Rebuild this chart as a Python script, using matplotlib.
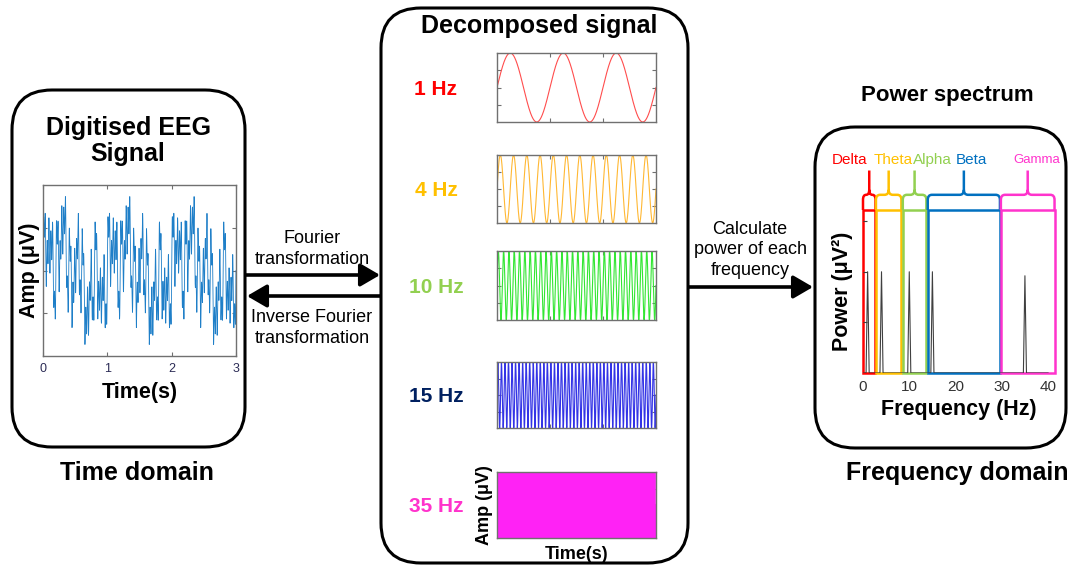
import numpy as np
import matplotlib.pyplot as plt
from matplotlib.patches import FancyBboxPatch, Rectangle, PathPatch
from matplotlib.path import Path

plt.rcParams['font.family'] = ['Liberation Sans', 'DejaVu Sans']

# signal components (Hz) and their amplitudes
freqs = [1, 4, 10, 15, 35]
amps = [1.0, 1.0, 1.0, 1.0, 0.98]
freq_labels = ['1 Hz', '4 Hz', '10 Hz', '15 Hz', '35 Hz']
duration = 3
fs = 1000
time_ticks = [0, 1, 2, 3]

# power spectrum bands
band_names = ['Delta', 'Theta', 'Alpha', 'Beta', 'Gamma']
band_lo = [0, 2.8, 8.6, 14.0, 29.8]
band_hi = [2.7, 8.3, 13.7, 29.6, 41.4]
band_label_x = [-3.0, 6.5, 14.9, 23.5, 37.6]
freq_ticks = [0, 10, 20, 30, 40]
peak_power = 2.0

label_colors = ['#FF0000', '#FFC000', '#92D050', '#002060', '#FF33CC']
wave_colors = ['#FF4D4D', '#FFB833', '#33E633', '#3333E6', '#FF22F5']
band_colors = ['#FF0000', '#FFC000', '#92D050', '#0070C0', '#FF33CC']
frame_grey = '#707070'

W, H = 1070, 567
fig = plt.figure(figsize=(W / 100, H / 100), dpi=100)

overlay = fig.add_axes([0, 0, 1, 1])
overlay.set_xlim(0, W)
overlay.set_ylim(H, 0)
overlay.axis('off')


def px_axes(x0, y0, x1, y1):
    return fig.add_axes([x0 / W, 1 - y1 / H, (x1 - x0) / W, (y1 - y0) / H])


def rbox(x0, y0, x1, y1):
    overlay.add_patch(FancyBboxPatch((x0, y0), x1 - x0, y1 - y0,
                                     boxstyle='round,pad=0,rounding_size=40',
                                     fc='none', ec='black', lw=2.2))


def matlab_frame(ax):
    for s in ax.spines.values():
        s.set_color(frame_grey)
        s.set_linewidth(1.0)
    ax.tick_params(direction='in', top=True, right=True, length=3,
                   color=frame_grey, labelleft=False)


# boxes
rbox(12, 90, 245, 447)
rbox(381, 8, 688, 563)
rbox(815, 127, 1066, 448)

# arrows
arrow_kw = dict(arrowstyle='-|>,head_length=0.6,head_width=0.35', color='black',
                lw=2.6, mutation_scale=20, shrinkA=0, shrinkB=0)
overlay.annotate('', xy=(380, 275), xytext=(246, 275), arrowprops=arrow_kw)
overlay.annotate('', xy=(247, 296), xytext=(380, 296), arrowprops=arrow_kw)
overlay.annotate('', xy=(813, 287), xytext=(689, 287), arrowprops=arrow_kw)

overlay.text(312, 249, 'Fourier\ntransformation', ha='center', va='center',
             fontsize=13, linespacing=1.25)
overlay.text(312, 328, 'Inverse Fourier\ntransformation', ha='center', va='center',
             fontsize=13, linespacing=1.25)
overlay.text(750, 250, 'Calculate\npower of each\nfrequency', ha='center', va='center',
             fontsize=13, linespacing=1.25)

# titles
overlay.text(128, 141, 'Digitised EEG\nSignal', ha='center', va='center',
             fontsize=18, fontweight='bold', linespacing=1.15)
overlay.text(137, 473, 'Time domain', ha='center', va='center',
             fontsize=18, fontweight='bold')
overlay.text(539, 26, 'Decomposed signal', ha='center', va='center',
             fontsize=18, fontweight='bold')
overlay.text(947, 95, 'Power spectrum', ha='center', va='center',
             fontsize=16, fontweight='bold')
overlay.text(957, 473, 'Frequency domain', ha='center', va='center',
             fontsize=18, fontweight='bold')

t = np.linspace(0, duration, duration * fs + 1)
waves = [a * np.sin(2 * np.pi * f * t) for f, a in zip(freqs, amps)]
eeg = np.sum(waves, axis=0)

# EEG signal
ax = px_axes(43, 185, 236, 356)
ax.plot(t, eeg, color='#1F7FC8', lw=0.6)
ax.set_xlim(0, duration)
lim = 2 * np.abs(eeg).max() / 1.73
ax.set_ylim(-lim, lim)
ax.set_yticks([-lim / 2, 0, lim / 2])
ax.set_xticks(time_ticks)
matlab_frame(ax)
ax.tick_params(labelsize=9, labelcolor='#2B2B55', pad=5)
ax.set_xlabel('Time(s)', fontsize=15.5, fontweight='bold', labelpad=5)
ax.set_ylabel('Amp (μV)', fontsize=15.5, fontweight='bold', labelpad=2)

# decomposed components
tops = [53, 155, 251, 362, 472]
bottoms = [122, 223, 320, 428, 538]
for i in range(len(freqs)):
    sub = px_axes(497, tops[i], 656, bottoms[i])
    sub.plot(t, waves[i], color=wave_colors[i], lw=0.8)
    sub.set_xlim(0, duration)
    sub.set_ylim(-amps[i], amps[i])
    sub.set_xticks([1, 2])
    sub.set_yticks([-amps[i] / 2, 0, amps[i] / 2])
    matlab_frame(sub)
    sub.tick_params(labelbottom=False)
    overlay.text(436, (tops[i] + bottoms[i]) / 2 + 2, freq_labels[i],
                 ha='center', va='center', fontsize=15, fontweight='bold',
                 color=label_colors[i])
sub.set_xlabel('Time(s)', fontsize=13, fontweight='bold', labelpad=6)
sub.set_ylabel('Amp (μV)', fontsize=13, fontweight='bold', labelpad=3)

# power spectrum
pw = px_axes(863, 210, 1055, 373)
spec = np.abs(np.fft.rfft(eeg[:-1])) ** 2
f_axis = np.fft.rfftfreq(len(eeg) - 1, 1 / fs)
spec = spec / spec.max() * peak_power
keep = f_axis <= 40
pw.plot(f_axis[keep], spec[keep], color='#404040', lw=0.8)
pw.set_xlim(0, 41.5)
pw.set_ylim(0, 3.22)
pw.set_facecolor('none')
for s in pw.spines.values():
    s.set_visible(False)
pw.set_xticks(freq_ticks)
pw.set_yticks([1, 2, 3])
pw.tick_params(axis='y', direction='in', length=3, labelleft=False, color='#404040')
pw.tick_params(axis='x', length=0, labelsize=11, labelcolor='#333333', pad=5)
pw.set_xlabel('Frequency (Hz)', fontsize=15.5, fontweight='bold', labelpad=4)
pw.set_ylabel('Power (μV²)', fontsize=15.5, fontweight='bold', labelpad=7)

top = 3.52
spike = 4.0
ry = 0.1
for lo, hi, c, name, lx in zip(band_lo, band_hi, band_colors, band_names, band_label_x):
    pw.add_patch(Rectangle((lo, 0), hi - lo, 3.22, fill=False, ec=c, lw=1.8,
                           clip_on=False, joinstyle='miter'))
    mid = (lo + hi) / 2
    rx = min(0.9, (hi - lo) / 4)
    verts = [(lo, 3.22), (lo, top - ry), (lo, top), (lo + rx, top),
             (mid - rx, top), (mid, top), (mid, top + ry), (mid, spike),
             (mid, top + ry), (mid, top), (mid + rx, top),
             (hi - rx, top), (hi, top), (hi, top - ry), (hi, 3.22)]
    codes = [Path.MOVETO, Path.LINETO, Path.CURVE3, Path.CURVE3,
             Path.LINETO, Path.CURVE3, Path.CURVE3, Path.LINETO,
             Path.MOVETO, Path.CURVE3, Path.CURVE3,
             Path.LINETO, Path.CURVE3, Path.CURVE3, Path.LINETO]
    pw.add_patch(PathPatch(Path(verts, codes), fc='none', ec=c, lw=1.8, clip_on=False))
    pw.text(lx, 4.2, name, color=c, ha='center', va='center',
            fontsize=9.5 if name == 'Gamma' else 11, clip_on=False)

fig.savefig('out.png', dpi=100)
